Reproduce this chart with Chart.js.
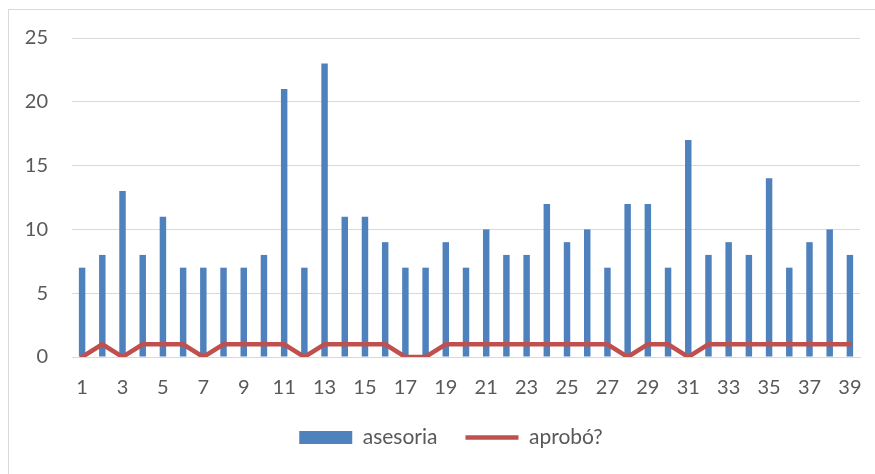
<!DOCTYPE html>
<html>
<head>
<meta charset="utf-8">
<script src="https://cdn.jsdelivr.net/npm/chart.js@4/dist/chart.umd.min.js"></script>
<style>
    html, body { margin: 0; padding: 0; background: #ffffff; overflow: hidden; }
    #wrap { position: relative; width: 875px; height: 474px; }
    #frame { position: absolute; left: 8px; top: 9px; width: 900px; height: 500px;
             border: 1px solid #d9d9d9; box-sizing: border-box; }
    #chart { position: absolute; left: 0; top: 0; }
</style>
</head>
<body>
<div id="wrap">
    <div id="frame"></div>
    <canvas id="chart" width="875" height="474"></canvas>
</div>
<script>
// Chart data
const categories = ['1','2','3','4','5','6','7','8','9','10','11','12','13','14','15','16','17','18','19','20',
                    '21','22','23','24','25','26','27','28','29','30','31','32','33','34','35','36','37','38','39'];
const asesoria = [7, 8, 13, 8, 11, 7, 7, 7, 7, 8, 21, 7, 23, 11, 11, 9, 7, 7, 9, 7,
                  10, 8, 8, 12, 9, 10, 7, 12, 12, 7, 17, 8, 9, 8, 14, 7, 9, 10, 8];
const aprobo = [0, 1, 0, 1, 1, 1, 0, 1, 1, 1, 1, 0, 1, 1, 1, 1, 0, 0, 1, 1,
                1, 1, 1, 1, 1, 1, 1, 0, 1, 1, 0, 1, 1, 1, 1, 1, 1, 1, 1];
const yTicks = [0, 5, 10, 15, 20, 25];

const textColor = '#595959';
const gridColor = '#d9d9d9';
const fontFamily = 'Lato, "Open Sans", sans-serif';

Chart.defaults.font.family = fontFamily;
Chart.defaults.color = textColor;

// nudge the legend to the right, the original centres it a bit off the canvas middle
const legendShift = {
    id: 'legendShift',
    afterLayout(chart) {
        if (chart.legend) chart.legend.left += 42;
    }
};

const ctx = document.getElementById('chart');
new Chart(ctx, {
    type: 'bar',
    data: {
        labels: categories,
        datasets: [
            {
                label: 'asesoria',
                data: asesoria,
                backgroundColor: '#4f81bd',
                borderWidth: 0,
                barPercentage: 0.32,
                categoryPercentage: 1,
                pointStyle: 'rect',
                order: 2
            },
            {
                type: 'line',
                label: 'aprobó?',
                data: aprobo,
                borderColor: '#c0504d',
                backgroundColor: '#c0504d',
                borderWidth: 4.5,
                borderCapStyle: 'round',
                borderJoinStyle: 'miter',
                tension: 0,
                pointRadius: 0,
                pointHoverRadius: 0,
                pointStyle: 'line',
                order: 1
            }
        ]
    },
    plugins: [legendShift],
    options: {
        responsive: false,
        animation: false,
        events: [],
        layout: { autoPadding: false, padding: { top: 38, right: 15, left: 0, bottom: 16 } },
        plugins: {
            tooltip: { enabled: false },
            legend: {
                position: 'bottom',
                labels: {
                    usePointStyle: true,
                    pointStyleWidth: 53,
                    boxHeight: 13,
                    padding: 28,
                    font: { size: 21 },
                    color: textColor,
                    sort: (a, b) => a.datasetIndex - b.datasetIndex
                }
            }
        },
        scales: {
            x: {
                offset: true,
                afterFit: scale => {
                    scale.height = 42;
                    scale.paddingLeft = 0;
                    scale.paddingRight = 0;
                },
                grid: { display: false, drawTicks: false },
                border: { display: true, color: gridColor, width: 1 },
                ticks: {
                    autoSkip: false,
                    maxRotation: 0,
                    padding: 19,
                    font: { size: 20 },
                    color: textColor,
                    callback: function (value, index) {
                        return index % 2 === 0 ? categories[index] : '';
                    }
                }
            },
            y: {
                min: 0,
                max: 25,
                afterBuildTicks: scale => { scale.ticks = yTicks.map(v => ({ value: v })); },
                afterFit: scale => { scale.width = 72; },
                grid: { color: gridColor, lineWidth: 1, drawTicks: false },
                border: { display: false },
                ticks: {
                    padding: 24,
                    font: { size: 20 },
                    color: textColor
                }
            }
        }
    }
});
</script>
</body>
</html>
